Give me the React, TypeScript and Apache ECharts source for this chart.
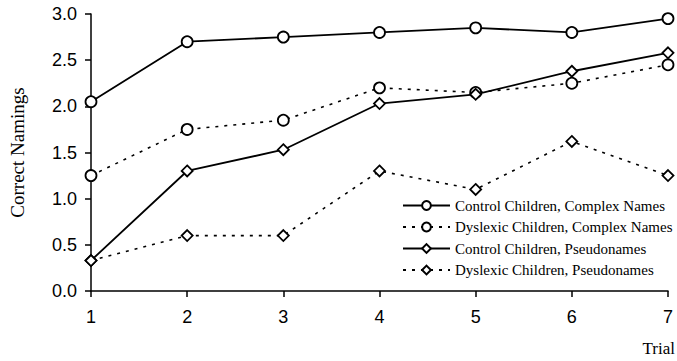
import React, { useEffect, useRef } from "react";
import * as echarts from "echarts";

const trials = ["1", "2", "3", "4", "5", "6", "7"];
const controlComplex = [2.05, 2.7, 2.75, 2.8, 2.85, 2.8, 2.95];
const dyslexicComplex = [1.25, 1.75, 1.85, 2.2, 2.15, 2.25, 2.45];
const controlPseudo = [0.33, 1.3, 1.53, 2.03, 2.13, 2.38, 2.58];
const dyslexicPseudo = [0.33, 0.6, 0.6, 1.3, 1.1, 1.62, 1.25];
const seriesNames = [
  "Control Children, Complex Names",
  "Dyslexic Children, Complex Names",
  "Control Children, Pseudonames",
  "Dyslexic Children, Pseudonames",
];

export default function App() {
  const ref = useRef<HTMLDivElement>(null);
  useEffect(() => {
    if (!ref.current) return;
    const chart = echarts.init(ref.current, null, { renderer: "svg" });
    const mk = (name: string, data: number[], dashed: boolean, symbol: string) => ({
      name,
      type: "line",
      data,
      symbol,
      symbolSize: 11,
      showSymbol: true,
      lineStyle: { color: "#000", width: dashed ? 1.6 : 1.8, type: dashed ? [3, 6] : "solid" },
      itemStyle: { color: "#fff", borderColor: "#000", borderWidth: 1.8 },
      emphasis: { disabled: true },
      z: 3,
    });
    chart.setOption({
      animation: false,
      backgroundColor: "#fff",
      grid: { left: 86, right: 9, top: 14, bottom: 70 },
      xAxis: {
        type: "category",
        data: trials,
        boundaryGap: false,
        axisLine: { lineStyle: { color: "#000", width: 1.5 } },
        axisTick: { alignWithLabel: true, length: 6, lineStyle: { color: "#000", width: 1.5 } },
        axisLabel: { color: "#000", fontFamily: "Liberation Sans", fontSize: 18, margin: 17 },
        splitLine: { show: false },
      },
      yAxis: {
        type: "value",
        min: 0,
        max: 3,
        interval: 0.5,
        name: "Correct Namings",
        nameLocation: "middle",
        nameGap: 64,
        nameTextStyle: { color: "#000", fontFamily: "Liberation Serif", fontSize: 19 },
        axisLine: { show: true, lineStyle: { color: "#000", width: 1.5 } },
        axisTick: { show: true, length: 6, lineStyle: { color: "#000", width: 1.5 } },
        axisLabel: {
          color: "#000",
          fontFamily: "Liberation Sans",
          fontSize: 18,
          margin: 14,
          formatter: (v: number) => v.toFixed(1),
        },
        splitLine: { show: false },
      },
      legend: {
        orient: "vertical",
        left: 397,
        top: 193,
        itemWidth: 47,
        itemHeight: 11,
        itemGap: 6.5,
        textStyle: { color: "#000", fontFamily: "Liberation Serif", fontSize: 15 },
        data: seriesNames,
      },
      graphic: [
        {
          type: "text",
          right: 2,
          top: 340,
          style: { text: "Trial", fill: "#000", font: "17px 'Liberation Serif'" },
        },
      ],
      series: [
        mk(seriesNames[0], controlComplex, false, "circle"),
        mk(seriesNames[1], dyslexicComplex, true, "circle"),
        mk(seriesNames[2], controlPseudo, false, "diamond"),
        mk(seriesNames[3], dyslexicPseudo, true, "diamond"),
      ],
    });
    return () => chart.dispose();
  }, []);
  return (
    <div
      ref={ref}
      style={{ position: "fixed", left: 0, top: 0, width: 677, height: 361 }}
    />
  );
}
